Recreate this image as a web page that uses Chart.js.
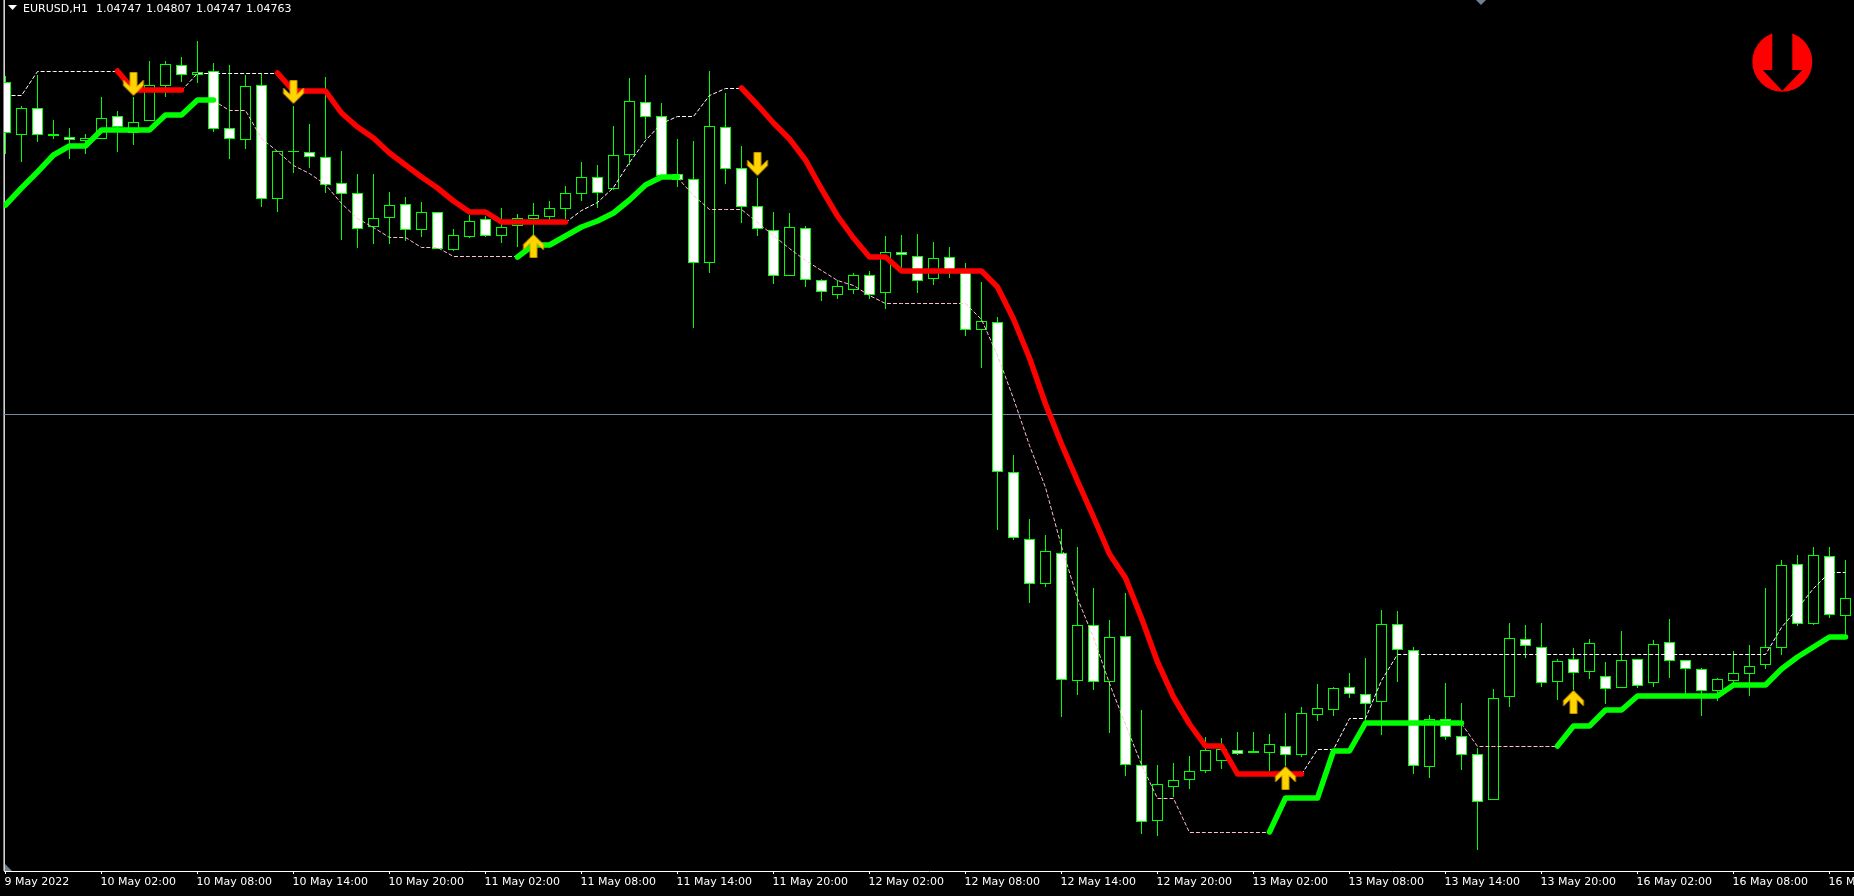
<!DOCTYPE html>
<html>
<head>
<meta charset="utf-8">
<title>EURUSD,H1</title>
<style>
  html, body { margin: 0; padding: 0; background: #000; overflow: hidden; }
  canvas { display: block; }
</style>
<script src="https://cdn.jsdelivr.net/npm/chart.js@4"></script>
</head>
<body>
<canvas id="chart" width="1854" height="896"></canvas>
<script>
const symbol = "EURUSD,H1";
const headerPrices = ["1.04747", "1.04807", "1.04747", "1.04763"];

// x axis text, one label every 6 bars
const tickLabels = ["9 May 2022", "10 May 02:00", "10 May 08:00", "10 May 14:00", "10 May 20:00",
  "11 May 02:00", "11 May 08:00", "11 May 14:00", "11 May 20:00", "12 May 02:00", "12 May 08:00",
  "12 May 14:00", "12 May 20:00", "13 May 02:00", "13 May 08:00", "13 May 14:00", "13 May 20:00",
  "16 May 02:00", "16 May 08:00", "16 May 14:00"];

// candles
const opens = [1.05754,1.05595,1.05676,1.05598,1.05589,1.05577,1.05583,1.05652,1.05601,1.05637,1.05742,1.05805,1.05775,1.05787,1.05616,1.05580,1.05745,1.05403,1.05544,1.05544,
  1.05529,1.05451,1.05421,1.05319,1.05346,1.05388,1.05310,1.05364,1.05250,1.05289,1.05343,1.05292,1.05322,1.05343,1.05349,1.05373,1.05418,1.05469,1.05433,1.05535,
  1.05694,1.05652,1.05478,1.05463,1.05211,1.05619,1.05496,1.05382,1.05310,1.05172,1.05316,1.05160,1.05115,1.05130,1.05175,1.05121,1.05244,1.05232,1.05163,1.05229,
  1.05187,1.05010,1.05034,1.04584,1.04383,1.04248,1.04341,1.03957,1.04125,1.03954,1.04092,1.03705,1.03537,1.03639,1.03660,1.03687,1.03717,1.03750,1.03741,1.03741,
  1.03762,1.03735,1.03855,1.03870,1.03939,1.03918,1.03894,1.04128,1.04050,1.03699,1.03843,1.03792,1.03738,1.03600,1.03909,1.04083,1.04059,1.03954,1.04023,1.03984,
  1.03972,1.03936,1.04023,1.03951,1.04074,1.04020,1.03993,1.03927,1.03957,1.03978,1.04005,1.04056,1.04308,1.04128,1.04332,1.04152];
const highs = [1.05772,1.05682,1.05775,1.05640,1.05616,1.05598,1.05709,1.05667,1.05709,1.05817,1.05817,1.05829,1.05877,1.05811,1.05805,1.05775,1.05778,1.05547,1.05682,1.05628,
  1.05769,1.05547,1.05478,1.05478,1.05424,1.05409,1.05394,1.05364,1.05313,1.05355,1.05352,1.05376,1.05358,1.05391,1.05397,1.05442,1.05514,1.05505,1.05622,1.05766,
  1.05775,1.05691,1.05583,1.05577,1.05787,1.05721,1.05562,1.05466,1.05364,1.05361,1.05322,1.05163,1.05160,1.05181,1.05187,1.05292,1.05295,1.05298,1.05274,1.05259,
  1.05211,1.05154,1.05049,1.04635,1.04443,1.04395,1.04413,1.04359,1.04236,1.04140,1.04221,1.03870,1.03705,1.03711,1.03732,1.03789,1.03786,1.03804,1.03804,1.03798,
  1.03861,1.03879,1.03948,1.03939,1.03981,1.04026,1.04170,1.04167,1.04059,1.03855,1.03951,1.03891,1.03756,1.03933,1.04131,1.04125,1.04131,1.04023,1.04056,1.04083,
  1.04014,1.04107,1.04023,1.04080,1.04143,1.04020,1.03996,1.03966,1.04047,1.04065,1.04236,1.04320,1.04335,1.04359,1.04359,1.04320];
const lows = [1.05538,1.05514,1.05574,1.05583,1.05523,1.05538,1.05583,1.05544,1.05565,1.05637,1.05709,1.05754,1.05751,1.05604,1.05523,1.05553,1.05379,1.05364,1.05481,1.05496,
  1.05421,1.05280,1.05256,1.05268,1.05268,1.05277,1.05289,1.05253,1.05247,1.05286,1.05289,1.05271,1.05259,1.05295,1.05334,1.05343,1.05397,1.05376,1.05430,1.05505,
  1.05583,1.05466,1.05439,1.05016,1.05181,1.05448,1.05331,1.05292,1.05148,1.05172,1.05139,1.05097,1.05103,1.05118,1.05103,1.05073,1.05193,1.05121,1.05145,1.05166,
  1.04992,1.04896,1.04410,1.04380,1.04191,1.04239,1.03849,1.03915,1.03930,1.03801,1.03672,1.03498,1.03492,1.03609,1.03633,1.03681,1.03693,1.03735,1.03741,1.03687,
  1.03702,1.03729,1.03837,1.03852,1.03906,1.03831,1.03795,1.03954,1.03678,1.03666,1.03780,1.03690,1.03450,1.03600,1.03879,1.04026,1.03939,1.03900,1.03930,1.03963,
  1.03888,1.03936,1.03936,1.03939,1.03966,1.03915,1.03852,1.03897,1.03945,1.03912,1.03993,1.04035,1.04122,1.04125,1.04146,1.04089];
const closes = [1.05601,1.05676,1.05595,1.05592,1.05580,1.05586,1.05646,1.05619,1.05634,1.05745,1.05808,1.05775,1.05784,1.05613,1.05583,1.05742,1.05403,1.05547,1.05547,1.05529,
  1.05445,1.05418,1.05313,1.05346,1.05385,1.05310,1.05364,1.05253,1.05295,1.05337,1.05292,1.05319,1.05346,1.05355,1.05376,1.05421,1.05469,1.05421,1.05535,1.05697,
  1.05649,1.05472,1.05460,1.05211,1.05622,1.05493,1.05379,1.05313,1.05172,1.05319,1.05160,1.05124,1.05142,1.05175,1.05115,1.05244,1.05235,1.05157,1.05226,1.05187,
  1.05010,1.05037,1.04584,1.04386,1.04248,1.04347,1.03960,1.04125,1.03954,1.04089,1.03705,1.03534,1.03648,1.03660,1.03687,1.03750,1.03753,1.03738,1.03747,1.03768,
  1.03735,1.03861,1.03876,1.03936,1.03918,1.03888,1.04128,1.04050,1.03702,1.03843,1.03789,1.03735,1.03594,1.03906,1.04086,1.04062,1.03951,1.04017,1.03981,1.04071,
  1.03933,1.04020,1.03942,1.04068,1.04017,1.03993,1.03927,1.03963,1.03981,1.04002,1.04059,1.04305,1.04128,1.04335,1.04155,1.04206];

// thick trend line, one list per run, with the bar it starts on
const redRuns = [
  { start: 7, values: [1.05787,1.05730,1.05730,1.05730,1.05730] },
  { start: 17, values: [1.05781,1.05727,1.05727,1.05727,1.05661,1.05619,1.05586,1.05541,1.05505,1.05469,1.05436,1.05397,1.05364,1.05364,1.05334,1.05334,1.05334,1.05334,1.05334] },
  { start: 46, values: [1.05736,1.05685,1.05631,1.05583,1.05520,1.05433,1.05352,1.05286,1.05229,1.05229,1.05187,1.05187,1.05187,1.05187,1.05187,1.05187,1.05139,1.05043,1.04926,1.04788,1.04668,1.04557,1.04449,1.04338,1.04266,1.04146,1.04014,1.03909,1.03828,1.03762,1.03762,1.03678,1.03678,1.03678,1.03678,1.03678] }
];
const greenRuns = [
  { start: 0, values: [1.05385,1.05436,1.05484,1.05535,1.05562,1.05562,1.05610,1.05610,1.05610,1.05610,1.05655,1.05655,1.05700,1.05700] },
  { start: 32, values: [1.05229,1.05265,1.05265,1.05292,1.05319,1.05337,1.05361,1.05400,1.05445,1.05469,1.05469] },
  { start: 79, values: [1.03504,1.03606,1.03606,1.03606,1.03747,1.03747,1.03831,1.03831,1.03831,1.03831,1.03831,1.03831,1.03831] },
  { start: 97, values: [1.03762,1.03822,1.03822,1.03870,1.03870,1.03912,1.03912,1.03912,1.03912,1.03912,1.03912,1.03945,1.03945,1.03945,1.03993,1.04029,1.04059,1.04089,1.04089] }
];

// thin dashed stop line
const whiteRuns = [
  { start: 0, values: [1.05715,1.05715,1.05787,1.05787,1.05787,1.05787,1.05787,1.05787] },
  { start: 11, values: [1.05730,1.05781,1.05781,1.05781,1.05781,1.05781,1.05781] },
  { start: 35, values: [1.05334,1.05370,1.05394,1.05439,1.05514,1.05580,1.05631,1.05652,1.05652,1.05715,1.05736,1.05736] },
  { start: 81, values: [1.03678,1.03753,1.03753,1.03846,1.03846,1.03960,1.04038,1.04038,1.04038,1.04038,1.04038,1.04038,1.04038,1.04038,1.04038,1.04038,1.04038,1.04038,1.04038,1.04038,1.04038,1.04038,1.04038,1.04038,1.04038,1.04038,1.04038,1.04038,1.04038,1.04038,1.04119,1.04176,1.04236,1.04284,1.04284] }
];
const pinkRuns = [
  { start: 13, values: [1.05700,1.05670,1.05670,1.05586,1.05547,1.05505,1.05481,1.05448,1.05391,1.05346,1.05319,1.05289,1.05289,1.05259,1.05259,1.05232,1.05232,1.05232,1.05232,1.05232] },
  { start: 42, values: [1.05469,1.05415,1.05373,1.05373,1.05373,1.05334,1.05295,1.05256,1.05220,1.05190,1.05160,1.05145,1.05115,1.05091,1.05091,1.05091,1.05091,1.05091,1.05091,1.05043,1.04935,1.04806,1.04665,1.04539,1.04362,1.04206,1.04089,1.03951,1.03828,1.03708,1.03606,1.03606,1.03504,1.03504,1.03504,1.03504,1.03504,1.03504] },
  { start: 91, values: [1.03831,1.03762,1.03762,1.03762,1.03762,1.03762,1.03762] }
];

const downArrows = [{ x: 8, y: 1.05748 }, { x: 18, y: 1.05724 }, { x: 47, y: 1.05508 }];
const upArrows = [{ x: 33, y: 1.05262 }, { x: 80, y: 1.03666 }, { x: 98, y: 1.03894 }];
const bidLine = 1.04758;

function runToPoints(run) {
  return run.values.map(function (v, i) { return { x: run.start + i, y: v }; });
}

function makeArrow(up) {
  const c = document.createElement('canvas');
  c.width = 24;
  c.height = 28;
  const g = c.getContext('2d');
  g.translate(12, 14);
  if (up) g.scale(1, -1);
  g.beginPath();
  g.moveTo(-3.5, -11.5);
  g.lineTo(3.5, -11.5);
  g.lineTo(3.5, 2.5);
  g.lineTo(10, -4);
  g.lineTo(10, 1.5);
  g.lineTo(0, 11.5);
  g.lineTo(-10, 1.5);
  g.lineTo(-10, -4);
  g.lineTo(-3.5, 2.5);
  g.closePath();
  g.fillStyle = '#ffd400';
  g.fill();
  g.strokeStyle = '#d89a00';
  g.lineWidth = 0.8;
  g.stroke();
  return c;
}

function thickLine(run, color) {
  return {
    type: 'line', data: runToPoints(run), borderColor: color, borderWidth: 5.5,
    pointRadius: 0, tension: 0, borderCapStyle: 'round', borderJoinStyle: 'round', order: 2
  };
}
function dashLine(run, color) {
  return {
    type: 'line', data: runToPoints(run), borderColor: color, borderWidth: 1, crisp: true,
    borderDash: [4, 2], pointRadius: 0, tension: 0, order: 3
  };
}

// window furniture and the header text, not part of the data
const furniture = {
  id: 'furniture',
  beforeDraw(chart) {
    const ctx = chart.ctx;
    ctx.save();
    ctx.fillStyle = '#000';
    ctx.fillRect(0, 0, chart.width, chart.height);
    ctx.fillStyle = '#808080';
    ctx.fillRect(3, 0, 1, 871);
    ctx.restore();
  },
  // 1px lines sit on the pixel row, not between two rows
  beforeDatasetDraw(chart, args) {
    if (chart.data.datasets[args.index].crisp) {
      chart.ctx.save();
      chart.ctx.translate(0, 0.5);
    }
  },
  afterDatasetDraw(chart, args) {
    if (chart.data.datasets[args.index].crisp) chart.ctx.restore();
  },
  afterDraw(chart) {
    const ctx = chart.ctx;
    ctx.save();
    // corner markers
    ctx.fillStyle = '#708090';
    ctx.beginPath();
    ctx.moveTo(5, 864); ctx.lineTo(12, 871); ctx.lineTo(5, 871); ctx.closePath();
    ctx.fill();
    ctx.beginPath();
    ctx.moveTo(1476, 0); ctx.lineTo(1486, 0); ctx.lineTo(1481, 5); ctx.closePath();
    ctx.fill();
    // header
    ctx.fillStyle = '#fff';
    ctx.beginPath();
    ctx.moveTo(8, 5); ctx.lineTo(17, 5); ctx.lineTo(12.5, 10); ctx.closePath();
    ctx.fill();
    ctx.font = '11px "DejaVu Sans"';
    ctx.textBaseline = 'alphabetic';
    ctx.fillText(symbol, 23, 12);
    headerPrices.forEach(function (p, i) { ctx.fillText(p, 96 + 50 * i, 12); });
    // signal badge
    ctx.fillStyle = '#ff0000';
    ctx.beginPath();
    ctx.arc(1782.3, 61.7, 30, 0, Math.PI * 2);
    ctx.fill();
    ctx.fillStyle = '#000';
    ctx.beginPath();
    ctx.moveTo(1772.3, 28); ctx.lineTo(1792.3, 28); ctx.lineTo(1792.3, 70);
    ctx.lineTo(1802.3, 70); ctx.lineTo(1782.3, 90.7); ctx.lineTo(1762.7, 70);
    ctx.lineTo(1772.3, 70); ctx.closePath();
    ctx.fill();
    ctx.restore();
  }
};

const datasets = [];
datasets.push({ type: 'line', data: [{ x: -1, y: bidLine }, { x: 116, y: bidLine }], borderColor: '#778899', borderWidth: 1, crisp: true, pointRadius: 0, order: 10 });
datasets.push({
  type: 'bar', data: highs.map(function (h, i) { return { x: i, y: [lows[i], h] }; }),
  backgroundColor: '#00ff00', borderWidth: 0, barThickness: 1, grouped: false, inflateAmount: 0, order: 6
});
datasets.push({
  type: 'bar', data: opens.map(function (o, i) { return { x: i, y: [closes[i], o] }; }),
  backgroundColor: opens.map(function (o, i) { return o > closes[i] ? '#ffffff' : '#000000'; }),
  borderColor: '#00ff00', borderWidth: 1, borderSkipped: false, barThickness: 11, grouped: false, inflateAmount: 0, order: 5
});
whiteRuns.forEach(function (r) { datasets.push(dashLine(r, '#ffffff')); });
pinkRuns.forEach(function (r) { datasets.push(dashLine(r, '#ffc0cb')); });
redRuns.forEach(function (r) { datasets.push(thickLine(r, '#ff0000')); });
greenRuns.forEach(function (r) { datasets.push(thickLine(r, '#00ff00')); });
datasets.push({ type: 'scatter', data: downArrows, pointStyle: makeArrow(false), order: 1 });
datasets.push({ type: 'scatter', data: upArrows, pointStyle: makeArrow(true), order: 1 });

new Chart(document.getElementById('chart').getContext('2d'), {
  type: 'bar',
  data: { datasets: datasets },
  plugins: [furniture],
  options: {
    responsive: false,
    animation: false,
    events: [],
    layout: { autoPadding: false, padding: { left: 4, right: 0, top: 0, bottom: 0 } },
    plugins: { legend: { display: false }, tooltip: { enabled: false } },
    scales: {
      x: {
        type: 'linear',
        offset: false,
        min: -0.09375,
        max: 115.53125,
        grid: { offset: false, drawOnChartArea: false, color: '#ffffff', tickLength: 3 },
        border: { color: '#ffffff' },
        ticks: {
          autoSkip: false,
          maxRotation: 0,
          align: 'start',
          padding: 2,
          labelOffset: -1,
          color: '#ffffff',
          font: { family: 'DejaVu Sans', size: 11 },
          callback: function (value, index) { return tickLabels[index]; }
        },
        afterBuildTicks: function (scale) {
          scale.ticks = tickLabels.map(function (t, k) { return { value: k * 6 }; });
        },
        afterFit: function (scale) {
          scale.height = 25;
          scale.paddingLeft = 0;
          scale.paddingRight = 0;
        }
      },
      y: {
        min: 1.03387,
        max: 1.06,
        ticks: { display: false },
        grid: { drawOnChartArea: false, drawTicks: false },
        border: { color: '#d0d0d0' },
        afterFit: function (scale) { scale.width = 0; }
      }
    }
  }
});
</script>
</body>
</html>
